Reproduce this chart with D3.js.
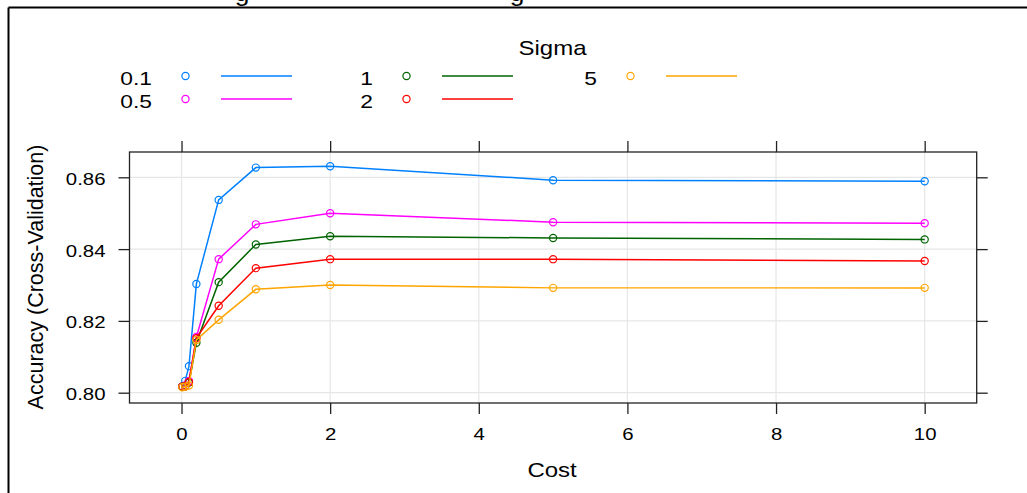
<!DOCTYPE html>
<html><head><meta charset="utf-8">
<script src="https://cdn.jsdelivr.net/npm/d3@7"></script>
<style>body{margin:0;background:#fff;} svg{display:block;} text{font-family:"Liberation Sans",Arial,sans-serif;fill:#000;}</style>
</head><body><svg id="c" width="1027" height="493"></svg>
<script>
const costs = [0.01, 0.05, 0.1, 0.2, 0.5, 1, 2, 5, 10];
const sigmaLabels = ["0.1", "0.5", "1", "2", "5"];
const acc_s01 = [0.8017, 0.8033, 0.8074, 0.8303, 0.8537, 0.8627, 0.8631, 0.8592, 0.8589];
const acc_s05 = [0.8017, 0.8020, 0.8033, 0.8155, 0.8372, 0.8469, 0.8500, 0.8475, 0.8472];
const acc_s1  = [0.8017, 0.8018, 0.8028, 0.8139, 0.8308, 0.8413, 0.8436, 0.8431, 0.8427];
const acc_s2  = [0.8017, 0.8018, 0.8030, 0.8152, 0.8242, 0.8347, 0.8372, 0.8372, 0.8367];
const acc_s5  = [0.8015, 0.8017, 0.8020, 0.8147, 0.8203, 0.8288, 0.8300, 0.8292, 0.8292];
const xTicks = [0, 2, 4, 6, 8, 10];
const yTicks = [0.80, 0.82, 0.84, 0.86];
const colors = ["#0080ff", "#ff00ff", "#006400", "#ff0000", "#ffa500"];

const seriesVals = [acc_s01, acc_s05, acc_s1, acc_s2, acc_s5];
const series = sigmaLabels.map((s, i) => ({label: s, color: colors[i],
  pts: costs.map((c, j) => ({x: c, y: seriesVals[i][j]}))}));

const svg = d3.select("#c");
const P = {l: 129.5, r: 976.7, t: 152, b: 403};
const x = d3.scaleLinear().domain([-0.7, 10.7]).range([P.l, P.r]);
const y = d3.scaleLinear().domain([0.79713, 0.86705]).range([P.b, P.t]);
const SX = 1.2;

function txt(g, s, tx, ty, size, anchor, sx) {
  return g.append("text").attr("transform", `translate(${tx},${ty}) scale(${sx},1)`)
    .attr("text-anchor", anchor).style("font-size", size + "px").text(s);
}

// outer frame
svg.append("line").attr("x1", 8.5).attr("x2", 1027).attr("y1", 7.5).attr("y2", 7.5).attr("stroke", "#000").attr("stroke-width", 2);
svg.append("line").attr("x1", 8.5).attr("x2", 8.5).attr("y1", 7.5).attr("y2", 493).attr("stroke", "#000").attr("stroke-width", 2);
// cut-off title descenders (the reference shows only their lower parts)
txt(svg, "g", 242, 1, 22, "middle", SX);
txt(svg, "g", 517, 1, 22, "middle", SX);

// grid
const grid = svg.append("g").attr("stroke", "#e6e6e6").attr("stroke-width", 1.2);
xTicks.forEach(t => grid.append("line").attr("x1", x(t)).attr("x2", x(t)).attr("y1", P.t).attr("y2", P.b));
yTicks.forEach(t => grid.append("line").attr("y1", y(t)).attr("y2", y(t)).attr("x1", P.l).attr("x2", P.r));

// axes (ticks on all four sides)
const tk = 11;
const axB = svg.append("g").attr("transform", `translate(0,${P.b})`).call(d3.axisBottom(x).tickValues(xTicks).tickSize(tk).tickFormat(d3.format("d")));
const axT = svg.append("g").attr("transform", `translate(0,${P.t})`).call(d3.axisTop(x).tickValues(xTicks).tickSize(tk).tickFormat(""));
const axL = svg.append("g").attr("transform", `translate(${P.l},0)`).call(d3.axisLeft(y).tickValues(yTicks).tickSize(tk).tickFormat(d3.format(".2f")));
const axR = svg.append("g").attr("transform", `translate(${P.r},0)`).call(d3.axisRight(y).tickValues(yTicks).tickSize(tk).tickFormat(""));
[axB, axT, axL, axR].forEach(a => { a.select(".domain").remove(); a.selectAll("line").attr("stroke", "#222").attr("stroke-width", 1.3); });
axB.selectAll("text").each(function(d) {
  const t = d3.select(this); t.attr("y", null).attr("dy", null)
   .attr("transform", `translate(0,37) scale(${SX},1)`).style("font-size", "17px").attr("fill", "#000");
});
axL.selectAll("text").each(function(d) {
  const t = d3.select(this); t.attr("x", null).attr("dy", null)
   .attr("transform", `translate(-24,7) scale(${SX},1)`).style("font-size", "17px").attr("fill", "#000");
});

// panel border
svg.append("rect").attr("x", P.l).attr("y", P.t).attr("width", P.r - P.l).attr("height", P.b - P.t)
  .attr("fill", "none").attr("stroke", "#222").attr("stroke-width", 1.3);

// series
const line = d3.line().x(d => x(d.x)).y(d => y(d.y));
svg.append("defs").append("clipPath").attr("id", "pc").append("rect")
  .attr("x", P.l).attr("y", P.t).attr("width", P.r - P.l).attr("height", P.b - P.t);
const plot = svg.append("g").attr("clip-path", "url(#pc)");
series.forEach(s => {
  const g = plot.append("g");
  g.append("path").datum(s.pts).attr("d", line).attr("fill", "none").attr("stroke", s.color).attr("stroke-width", 1.5);
  g.selectAll("circle").data(s.pts).join("circle").attr("cx", d => x(d.x)).attr("cy", d => y(d.y))
    .attr("r", 3.6).attr("fill", "none").attr("stroke", s.color).attr("stroke-width", 1.2);
});

// axis titles
txt(svg, "Cost", (P.l + P.r) / 2 - 1, 477, 20, "middle", SX);
svg.append("text").attr("transform", "translate(43,277) rotate(-90)").attr("text-anchor", "middle")
  .style("font-size", "21.5px").text("Accuracy (Cross-Validation)");

// legend
txt(svg, "Sigma", 552.5, 55, 20, "middle", SX);
const colX = [152, 373, 597];
const rowY = [76, 99];
series.forEach((s, i) => {
  const c = Math.floor(i / 2), r = i % 2;
  const lx = colX[c], ly = rowY[r];
  txt(svg, s.label, lx, ly + 9, 19, "end", SX);
  svg.append("circle").attr("cx", lx + 33.5).attr("cy", ly).attr("r", 3.6)
    .attr("fill", "none").attr("stroke", s.color).attr("stroke-width", 1.2);
  svg.append("line").attr("x1", lx + 69).attr("x2", lx + 140).attr("y1", ly).attr("y2", ly)
    .attr("stroke", s.color).attr("stroke-width", 1.6);
});
</script></body></html>
